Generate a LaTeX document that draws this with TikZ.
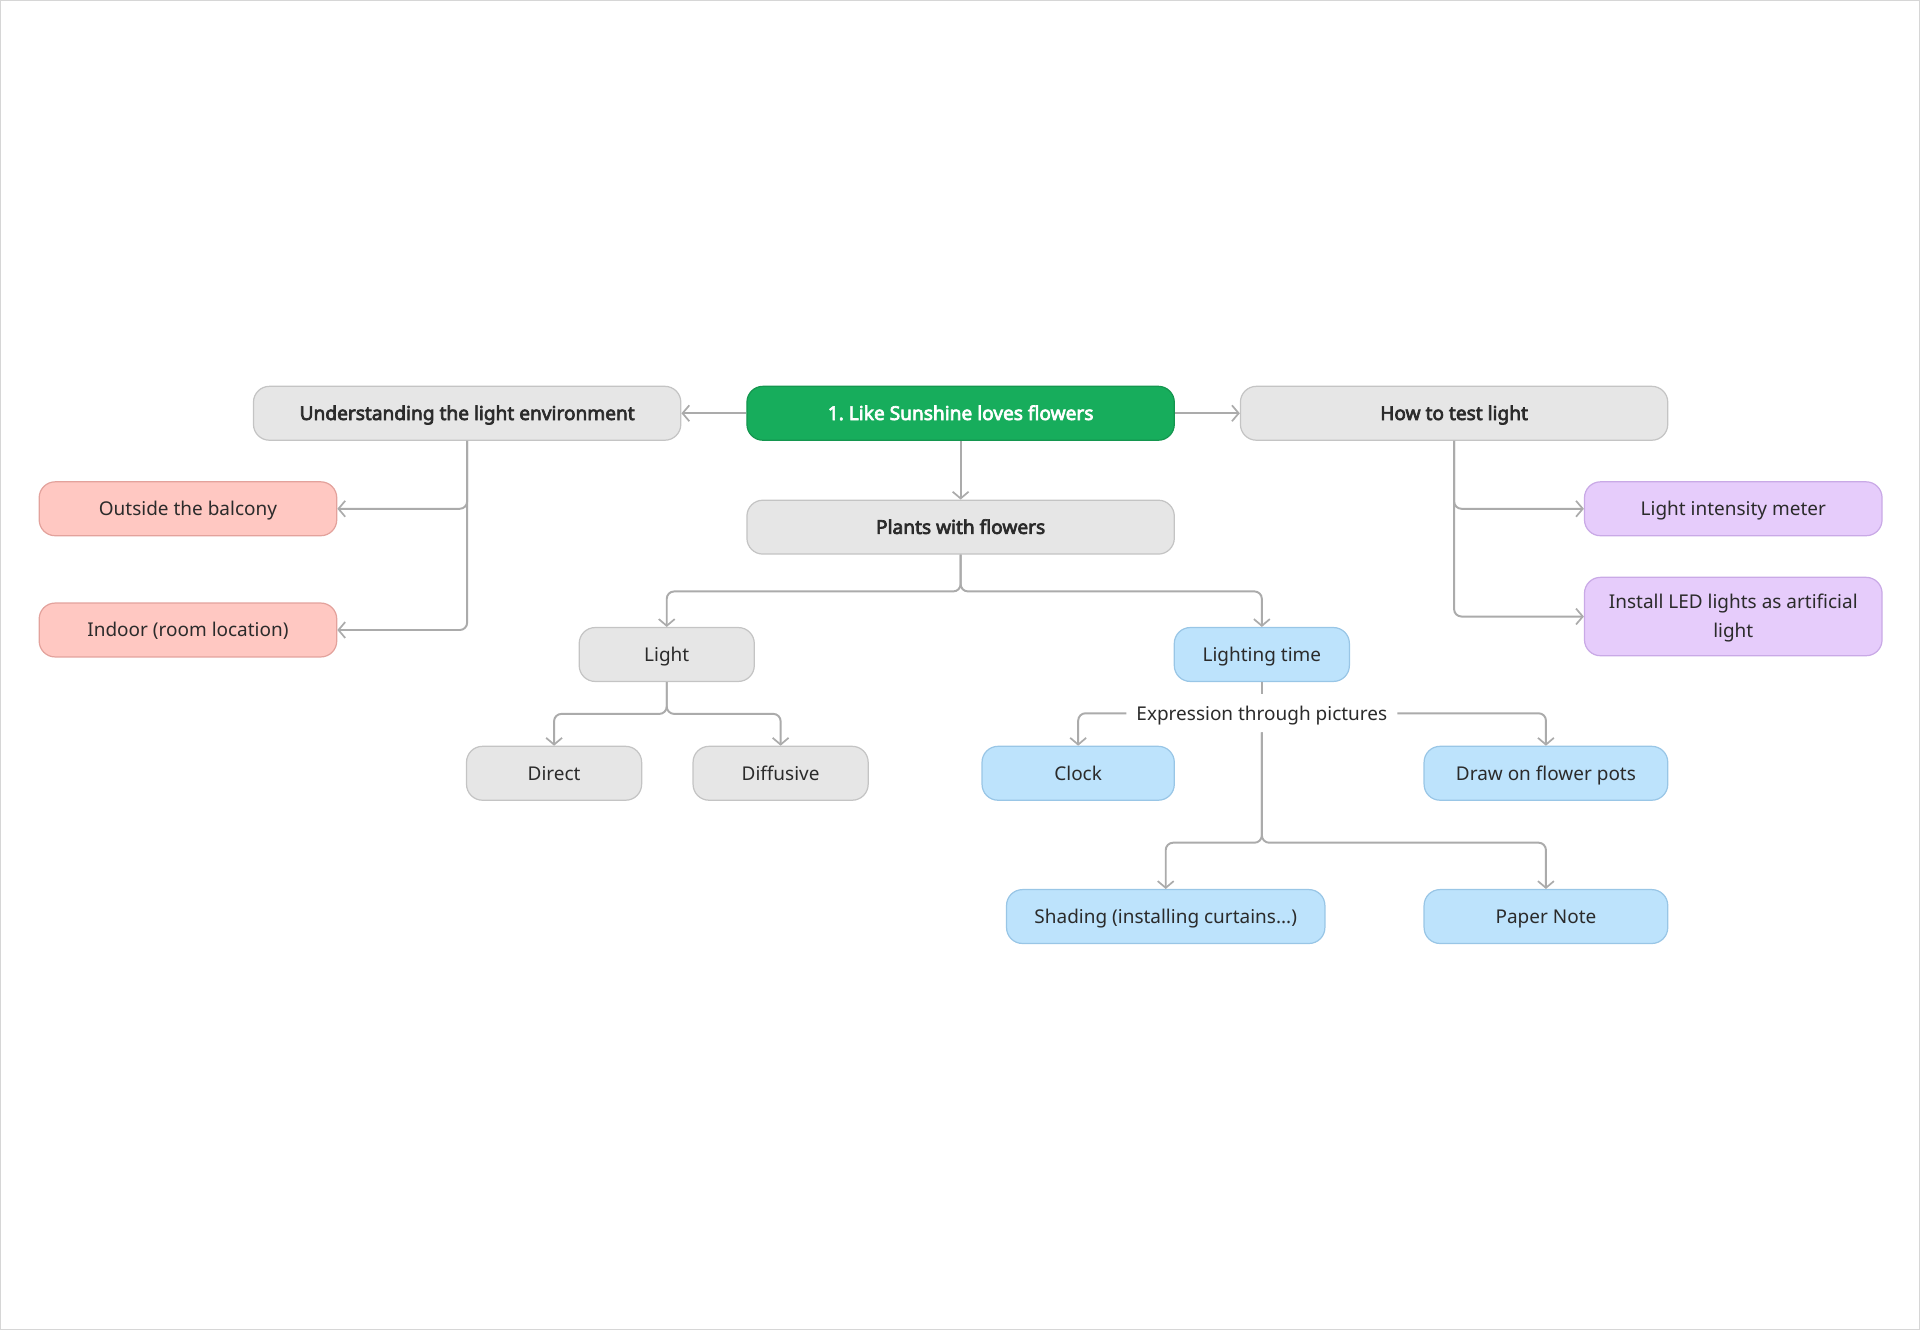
\documentclass[tikz,border=0pt]{standalone}
\usepackage{fontspec}
\setmainfont{Noto Sans}[BoldFont={Noto Sans},BoldFeatures={FakeBold=3.5}]
\usetikzlibrary{arrows.meta}
\definecolor{txt}{HTML}{2B2B2B}
\definecolor{ln}{HTML}{ABABAB}
\definecolor{grnF}{HTML}{17AD5C}
\definecolor{grnD}{HTML}{14964F}
\definecolor{gryF}{HTML}{E6E6E6}
\definecolor{gryD}{HTML}{C4C4C4}
\definecolor{pnkF}{HTML}{FFC8C2}
\definecolor{pnkD}{HTML}{E3A29C}
\definecolor{purF}{HTML}{E6CCFB}
\definecolor{purD}{HTML}{C9A9E6}
\definecolor{bluF}{HTML}{BDE3FC}
\definecolor{bluD}{HTML}{99C6E6}
\newcommand\regf{\fontsize{15.5}{24}\selectfont}
\newcommand\boldf{\fontsize{15.6}{24}\selectfont\bfseries}
\begin{document}
\begin{tikzpicture}[x=1pt,y=-1pt,
  box/.style={rounded corners=13pt,line width=1pt,minimum height=44pt,inner sep=0pt,align=center,text=txt,font=\regf,text height=11pt,text depth=0pt},
  gbox/.style={box,fill=gryF,draw=gryD},
  hbox/.style={gbox,font=\boldf},
  rbox/.style={box,fill=grnF,draw=grnD,text=white,font=\boldf},
  pbox/.style={box,fill=pnkF,draw=pnkD},
  vbox/.style={box,fill=purF,draw=purD},
  bbox/.style={box,fill=bluF,draw=bluD},
  conn/.style={draw=ln,line width=1.6pt,rounded corners=6pt,-{Straight Barb[length=5.5pt,width=13pt,line width=1.4pt]}},
  plain/.style={draw=ln,line width=1.6pt,rounded corners=6pt}
]
\useasboundingbox (0,0) rectangle (1568,1086);
\draw[draw=gryD!70,line width=1pt] (0.5,0.5) rectangle (1567.5,1085.5);

% nodes
\node[rbox,minimum width=349pt] (root) at (784.5,337.5) {1.\ Like Sunshine loves flowers};
\node[hbox,minimum width=349pt] (und) at (381.5,337.5) {Understanding the light environment};
\node[hbox,minimum width=349pt] (how) at (1187.5,337.5) {How to test light};
\node[hbox,minimum width=349pt] (plants) at (784.5,430.5) {Plants with flowers};
\node[pbox,minimum width=243pt] (out) at (153.5,415.5) {Outside the balcony};
\node[pbox,minimum width=243pt] (ind) at (153.5,514.5) {Indoor (room location)};
\node[vbox,minimum width=243pt] (lim) at (1415.5,415.5) {Light intensity meter};
\node[vbox,minimum width=243pt,minimum height=64pt,text height=35pt] (led) at (1415.5,503.5) {Install LED lights as artificial\\light};
\node[gbox,minimum width=143pt] (light) at (544.5,534.5) {Light};
\node[bbox,minimum width=143pt] (ltime) at (1030.5,534.5) {Lighting time};
\node[gbox,minimum width=143pt] (direct) at (452.5,631.5) {Direct};
\node[gbox,minimum width=143pt] (diff) at (637.5,631.5) {Diffusive};
\node[bbox,minimum width=157pt] (clock) at (880.5,631.5) {Clock};
\node[bbox,minimum width=199pt] (pots) at (1262.5,631.5) {Draw on flower pots};
\node[bbox,minimum width=260pt] (shade) at (952,748.5) {Shading (installing curtains...)};
\node[bbox,minimum width=199pt] (note) at (1262.5,748.5) {Paper Note};
\node[text=txt,font=\regf,text height=11pt,text depth=0pt,inner xsep=8pt,inner ysep=10pt] (expr) at (1030.5,582.5) {Expression through pictures};

% connectors
\draw[conn] (root.west) -- (und.east);
\draw[conn] (root.east) -- (how.west);
\draw[conn] (root.south) -- (plants.north);

\draw[conn] (und.south) |- (out.east);
\draw[conn] (und.south) |- (ind.east);

\draw[conn] (how.south) |- (lim.west);
\draw[conn] (how.south) |- (led.west);

\draw[conn] (plants.south) -- ++(0,30) -| (light.north);
\draw[conn] (plants.south) -- ++(0,30) -| (ltime.north);

\draw[conn] (light.south) -- ++(0,26) -| (direct.north);
\draw[conn] (light.south) -- ++(0,26) -| (diff.north);

\draw[plain] (ltime.south) -- (expr.north);
\draw[conn] (expr.west) -| (clock.north);
\draw[conn] (expr.east) -| (pots.north);
\draw[conn] (expr.south) -- ++(0,90) -| (shade.north);
\draw[conn] (expr.south) -- ++(0,90) -| (note.north);
\end{tikzpicture}
\end{document}
